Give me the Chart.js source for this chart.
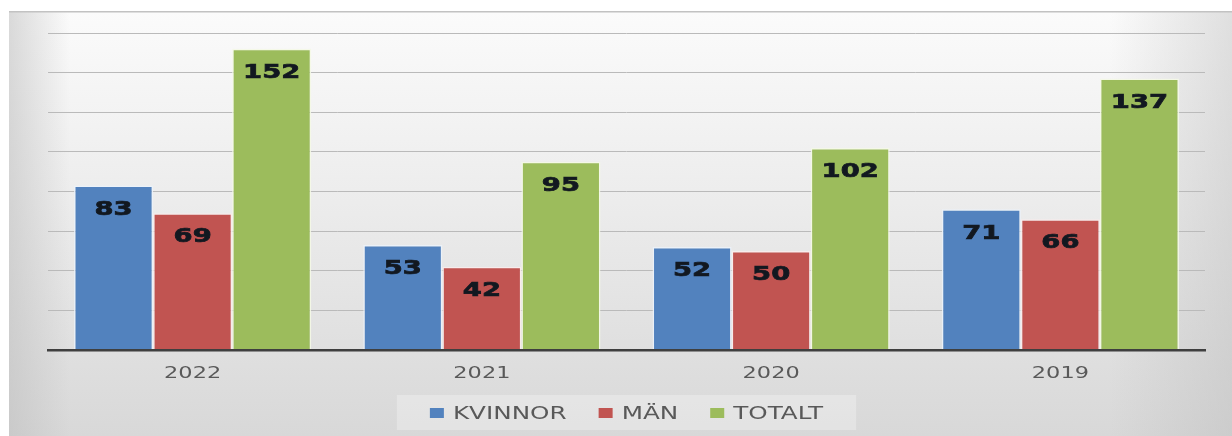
<!DOCTYPE html>
<html>
<head>
<meta charset="utf-8">
<script src="https://cdn.jsdelivr.net/npm/chart.js@4"></script>
<style>
  html, body { margin: 0; padding: 0; background: #fff; }
  #wrap { width: 1232px; height: 436px; position: relative; }
</style>
</head>
<body>
<div id="wrap"><canvas id="myChart"></canvas></div>
<script>
const years = ['2022', '2021', '2020', '2019']
const kvinnor = [83, 53, 52, 71]
const man = [69, 42, 50, 66]
const totalt = [152, 95, 102, 137]

const stretch = 1.37

// card background with soft shading
const background = {
  id: 'background',
  beforeDraw(chart) {
    const ctx = chart.ctx
    const w = chart.width, h = chart.height
    ctx.save()
    ctx.fillStyle = '#fff'
    ctx.fillRect(0, 0, w, h)
    let g = ctx.createLinearGradient(0, 11, 0, h)
    g.addColorStop(0, '#fbfbfb')
    g.addColorStop(0.45, '#ececec')
    g.addColorStop(1, '#d8d8d8')
    ctx.fillStyle = g
    ctx.fillRect(9, 11, w - 9, h - 11)
    g = ctx.createLinearGradient(9, 0, w, 0)
    g.addColorStop(0, 'rgba(190,190,190,0.55)')
    g.addColorStop(0.05, 'rgba(190,190,190,0)')
    g.addColorStop(0.9, 'rgba(190,190,190,0)')
    g.addColorStop(1, 'rgba(190,190,190,0.45)')
    ctx.fillStyle = g
    ctx.fillRect(9, 11, w - 9, h - 11)
    ctx.fillStyle = '#c2c2c2'
    ctx.fillRect(9, 11, w - 9, 1.5)
    ctx.restore()
  }
}

// wide text, like the stretched original
function wideText(ctx, text, x, y, sx, stroke) {
  ctx.save()
  ctx.translate(x, y)
  ctx.scale(sx, 1)
  if (stroke) ctx.strokeText(text, 0, 0)
  ctx.fillText(text, 0, 0)
  ctx.restore()
}

const labelsPlugin = {
  id: 'labelsPlugin',
  afterDatasetsDraw(chart) {
    const ctx = chart.ctx
    ctx.save()
    ctx.font = 'bold 20px "DejaVu Sans"'
    ctx.fillStyle = '#121820'
    ctx.strokeStyle = '#121820'
    ctx.lineWidth = 0.7
    ctx.textAlign = 'center'
    ctx.textBaseline = 'middle'
    chart.data.datasets.forEach((ds, di) => {
      chart.getDatasetMeta(di).data.forEach((el, i) => {
        wideText(ctx, String(ds.data[i]), el.x, el.y + 24, stretch, true)
      })
    })
    // category labels under the axis
    const xs = chart.scales.x
    ctx.font = '16px "DejaVu Sans"'
    ctx.fillStyle = '#595959'
    chart.data.labels.forEach((lab, i) => {
      wideText(ctx, lab, xs.getPixelForValue(i), 374, 1.4)
    })
    ctx.restore()
  }
}

const legendPlugin = {
  id: 'legendPlugin',
  afterDraw(chart) {
    const ctx = chart.ctx
    const area = chart.chartArea
    ctx.save()
    ctx.font = '18px "DejaVu Sans"'
    const items = chart.data.datasets.map(ds => ({
      text: ds.label, color: ds.backgroundColor,
      w: ctx.measureText(ds.label).width * stretch
    }))
    const box = 14, gap = 9, between = 32
    let total = 0
    items.forEach((it, i) => { total += box + gap + it.w + (i ? between : 0) })
    const cx = (area.left + area.right) / 2
    const y = 413
    ctx.fillStyle = 'rgba(255,255,255,0.28)'
    ctx.fillRect(cx - total / 2 - 33, 395, total + 66, 35)
    let x = cx - total / 2
    ctx.textBaseline = 'middle'
    ctx.textAlign = 'left'
    items.forEach(it => {
      ctx.fillStyle = it.color
      ctx.fillRect(x, y - 5, box, 10)
      x += box + gap
      ctx.fillStyle = '#595959'
      wideText(ctx, it.text, x, y + 1, stretch)
      x += it.w + between
    })
    ctx.restore()
  }
}

const data = {
  labels: years,
  datasets: [{
    label: 'KVINNOR',
    data: kvinnor,
    backgroundColor: 'rgb(82, 130, 190)',
    borderColor: 'rgba(235, 242, 250, 0.9)',
    borderWidth: 1.5
  }, {
    label: 'MÄN',
    data: man,
    backgroundColor: 'rgb(193, 84, 81)',
    borderColor: 'rgba(250, 236, 236, 0.9)',
    borderWidth: 1.5
  }, {
    label: 'TOTALT',
    data: totalt,
    backgroundColor: 'rgb(156, 188, 92)',
    borderColor: 'rgba(244, 248, 230, 0.9)',
    borderWidth: 1.5
  }]
}

new Chart(document.getElementById('myChart'), {
  type: 'bar',
  data,
  plugins: [background, labelsPlugin, legendPlugin],
  options: {
    responsive: true,
    maintainAspectRatio: false,
    animation: false,
    categoryPercentage: 0.82,
    barPercentage: 1,
    layout: { padding: { left: 48, right: 27, top: 33, bottom: 86 } },
    plugins: { legend: { display: false }, tooltip: { enabled: false } },
    scales: {
      x: {
        grid: { display: false, drawTicks: false },
        ticks: { display: false },
        border: { display: true, color: '#3f3f3f', width: 2.5, z: 1 }
      },
      y: {
        min: 0,
        max: 160,
        ticks: { display: false, stepSize: 20 },
        grid: { color: '#bababa', lineWidth: 1, drawTicks: false },
        border: { display: false }
      }
    }
  }
})
</script>
</body>
</html>
